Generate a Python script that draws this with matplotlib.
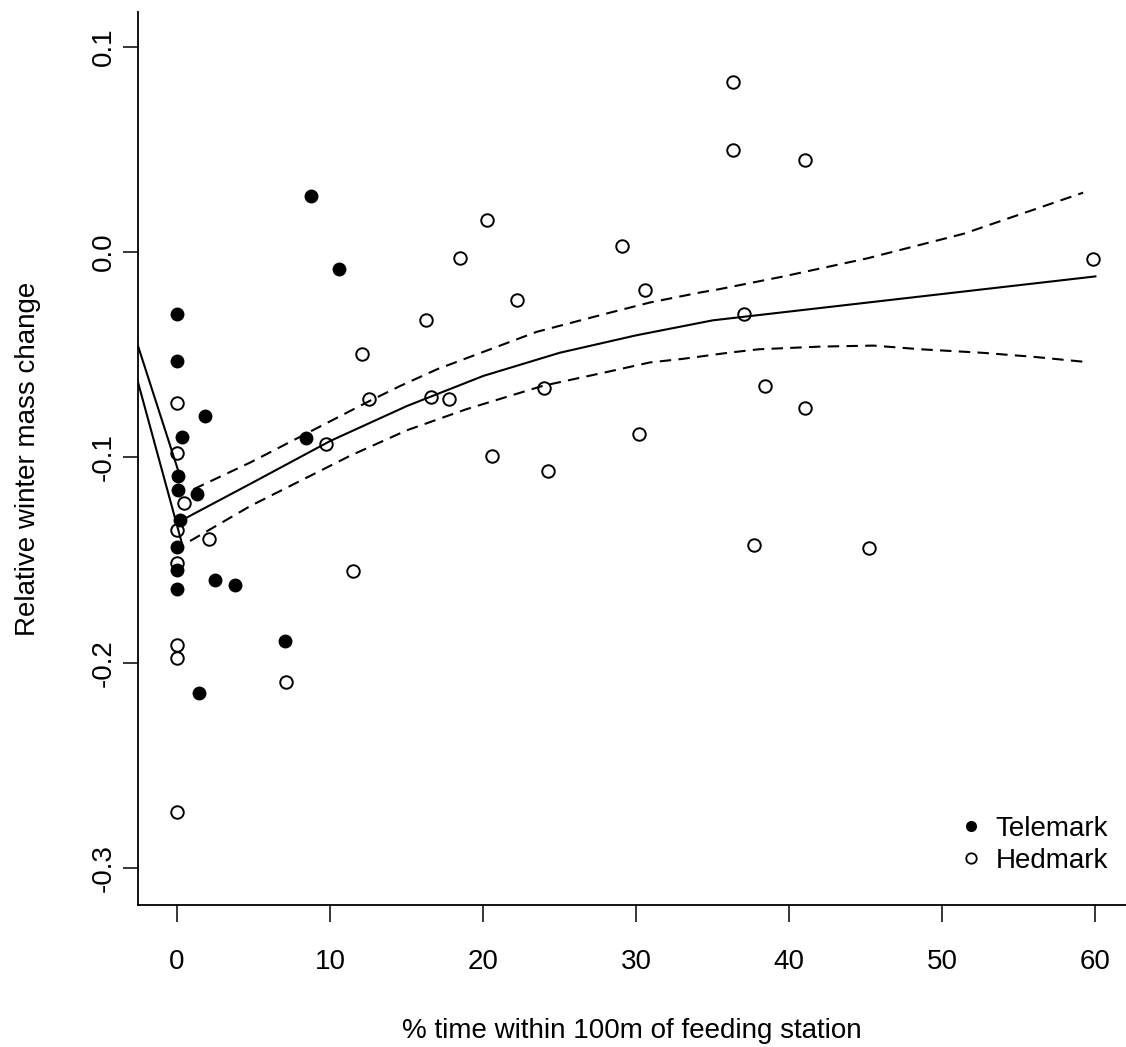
import matplotlib
matplotlib.use("Agg")
import matplotlib.pyplot as plt
from matplotlib.lines import Line2D

plt.rcParams['font.family'] = ['Liberation Sans', 'DejaVu Sans']
plt.rcParams['font.size'] = 20

# ---- data ----
tel_x = [0, 0, 0.3, 1.85, 0.05, 0.05, 1.3, 0.2, 0, 0, 0, 2.45, 3.8, 1.45, 7.05, 8.75, 10.6, 8.4]
tel_y = [-0.030, -0.0528, -0.0901, -0.0798, -0.1091, -0.1159, -0.1176, -0.1304, -0.1437,
         -0.1550, -0.1640, -0.1595, -0.1619, -0.2145, -0.1895, 0.0276, -0.0083, -0.0903]

hed_x = [0, 0, 0.48, 0, 2.09, 0, 0, 0, 0, 20.26, 18.5, 29.05, 30.56, 22.24, 16.27, 12.07,
         12.53, 16.62, 17.8, 23.99, 9.74, 30.21, 20.61, 24.23, 11.48, 36.32, 36.32, 41.0,
         37.01, 59.85, 38.41, 41.0, 37.71, 45.21, 7.12]
hed_y = [-0.0734, -0.0977, -0.1221, -0.1352, -0.1395, -0.1515, -0.1914, -0.1979, -0.2725,
         0.0157, -0.0026, 0.0032, -0.0186, -0.0235, -0.0331, -0.0497, -0.0713, -0.0705,
         -0.0715, -0.0663, -0.0932, -0.0886, -0.0992, -0.1064, -0.1553, 0.0828, 0.0496,
         0.0451, -0.0302, -0.0032, -0.0654, -0.0759, -0.1428, -0.1443, -0.2095]

fit_x = [0.2, 5, 10, 15, 20, 25, 30, 35, 60]
fit_y = [-0.131, -0.112, -0.092, -0.075, -0.0603, -0.049, -0.0405, -0.0332, -0.0118]

up_x = [1.07, 4.77, 12.6, 14.6, 17.0, 23.5, 28.0, 30.9, 34.2, 35.3, 39.5, 45.1, 51.4, 59.2]
up_y = [-0.1155, -0.1025, -0.0724, -0.0651, -0.057, -0.0388, -0.030, -0.0245, -0.0196,
        -0.0182, -0.012, -0.003, 0.009, 0.029]

lo_x = [0.85, 4.8, 11.3, 15.0, 18.9, 23.9, 28.0, 30.9, 33.0, 36.0, 38.0, 42.0, 45.5, 48.6,
        52.6, 56.0, 59.4]
lo_y = [-0.1407, -0.1236, -0.0992, -0.0868, -0.0765, -0.0651, -0.0585, -0.0537, -0.052,
        -0.049, -0.0473, -0.046, -0.0455, -0.0473, -0.049, -0.051, -0.0535]

edge1_x = [-2.6, 0.15]
edge1_y = [-0.0445, -0.1081]
edge2_x = [-2.6, 0.3]
edge2_y = [-0.0620, -0.1413]

x_ticks = [0, 10, 20, 30, 40, 50, 60]
y_ticks = [-0.3, -0.2, -0.1, 0.0, 0.1]
y_ticklabels = ["-0.3", "-0.2", "-0.1", "0.0", "0.1"]

# ---- figure ----
fig = plt.figure(figsize=(11.26, 10.47), dpi=100)
ax = fig.add_axes([138/1126, 142/1047, 988/1126, 893/1047])

ax.plot(fit_x, fit_y, color='black', lw=1.5, solid_joinstyle='round')
ax.plot(up_x, up_y, color='black', lw=1.5, dashes=(5.5, 3.5))
ax.plot(lo_x, lo_y, color='black', lw=1.5, dashes=(5.5, 3.5))
ax.plot(edge1_x, edge1_y, color='black', lw=1.5)
ax.plot(edge2_x, edge2_y, color='black', lw=1.5)

ax.plot(tel_x, tel_y, 'o', color='black', ms=10, mew=0, zorder=3)
ax.plot(hed_x, hed_y, 'o', mfc='none', mec='black', ms=9, mew=1.4, zorder=3)

ax.set_xlim(-2.55, 62.0)
ax.set_ylim(-0.318, 0.117)

ax.spines['top'].set_visible(False)
ax.spines['right'].set_visible(False)
for s in ('left', 'bottom'):
    ax.spines[s].set_linewidth(1.3)

ax.set_xticks(x_ticks)
ax.set_xticklabels([str(t) for t in x_ticks])
ax.set_yticks(y_ticks)
ax.set_yticklabels(y_ticklabels, rotation=90, va='center')
ax.tick_params(axis='x', length=12, width=1.1, pad=20, labelsize=20)
ax.tick_params(axis='y', length=11, width=1.1, pad=4, labelsize=20)

ax.set_xlabel('% time within 100m of feeding station', fontsize=20)
ax.set_ylabel('Relative winter mass change', fontsize=20)
ax.xaxis.set_label_coords(0.5, -0.1265)
ax.yaxis.set_label_coords(-0.098, 0.5)

handles = [Line2D([], [], marker='o', ls='none', color='black', ms=8, mew=0),
           Line2D([], [], marker='o', ls='none', mfc='none', mec='black', ms=7.5, mew=1.3)]
ax.legend(handles, ['Telemark', 'Hedmark'], loc='lower right',
          bbox_to_anchor=(0.996, 0.019), frameon=False, borderpad=0,
          handlelength=1.0, handletextpad=0.4, labelspacing=0.23, fontsize=20)

fig.savefig('out.png', dpi=100)
